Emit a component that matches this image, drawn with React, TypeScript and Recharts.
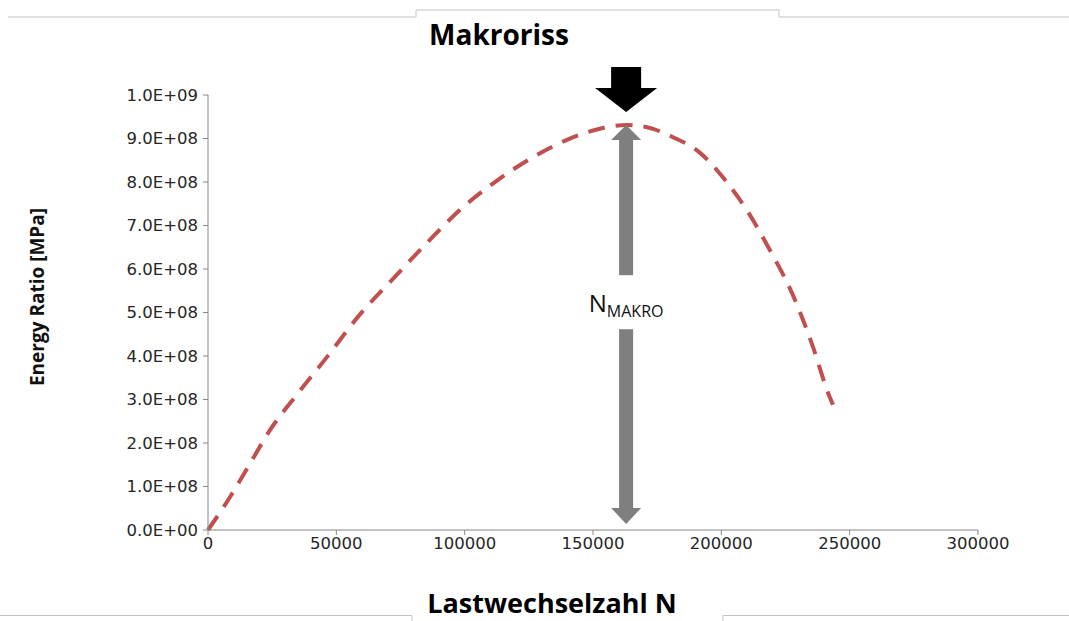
import { Line, LineChart, ReferenceLine, XAxis, YAxis } from 'recharts'

// Lastwechselzahl N
const cycles = [
  0, 8600, 15600, 24200, 35100, 46400, 58400, 71700, 85300, 98200, 113000, 126600, 139900, 153900,
  163200, 171000, 181200, 191700, 201400, 210400, 218200, 227500, 235700, 241600, 243500,
]
// Energy Ratio [MPa]
const energy = [
  0, 0.76e8, 1.45e8, 2.3e8, 3.15e8, 3.98e8, 4.9e8, 5.75e8, 6.6e8, 7.36e8, 8.05e8, 8.57e8, 8.97e8, 9.24e8,
  9.31e8, 9.26e8, 9.03e8, 8.67e8, 8.05e8, 7.31e8, 6.51e8, 5.45e8, 4.21e8, 3.15e8, 2.88e8,
]
const xTicks = [0, 50000, 100000, 150000, 200000, 250000, 300000]
const yTicks = [0, 1e8, 2e8, 3e8, 4e8, 5e8, 6e8, 7e8, 8e8, 9e8, 1e9]
const makroN = 162900
const makroPeak = 9.31e8

const W = 1069
const H = 621
const AXIS = '#868686'
const TICK_FONT = "'DejaVu Sans', sans-serif"
const TITLE_FONT = "'Open Sans', sans-serif"

const data = cycles.map((n, i) => ({ n, e: energy[i] }))

const sci = (v: number) => {
  if (v === 0) return '0.0E+00'
  const exp = Math.floor(Math.log10(v))
  const mant = v / Math.pow(10, exp)
  return `${mant.toFixed(1)}E+${String(exp).padStart(2, '0')}`
}

// double gray arrow from axis up to the peak, plus the black marker on top
const MakroArrow = (props: any) => {
  const { x1, y1, y2 } = props
  const x = x1
  const top = Math.min(y1, y2)
  const bottom = Math.max(y1, y2)
  const labelY = top + 0.44 * (bottom - top)
  const gray = '#7f7f7f'
  const bTip = top - 13
  return (
    <g>
      <polygon points={`${x},${top} ${x + 15},${top + 15} ${x - 15},${top + 15}`} fill={gray} />
      <rect x={x - 7} y={top + 14} width={14} height={labelY - 28 - top - 14} fill={gray} />
      <rect x={x - 7} y={labelY + 26} width={14} height={bottom - 21 - labelY - 26} fill={gray} />
      <polygon points={`${x},${bottom - 6} ${x + 15},${bottom - 22} ${x - 15},${bottom - 22}`} fill={gray} />
      <text x={x} y={labelY + 9} textAnchor="middle" fontFamily={TITLE_FONT} fill="#111">
        <tspan fontSize={24}>N</tspan>
        <tspan fontSize={16} dy={5}>MAKRO</tspan>
      </text>
      <polygon
        points={`${x - 15},${bTip - 45} ${x + 15},${bTip - 45} ${x + 15},${bTip - 24} ${x + 31},${bTip - 24} ${x},${bTip} ${x - 31},${bTip - 24} ${x - 15},${bTip - 24}`}
        fill="#000"
      />
    </g>
  )
}

export default function App() {
  return (
    <div style={{ position: 'absolute', left: 0, top: 0, width: W, height: H, background: '#fff' }}>
      <LineChart width={W} height={H} data={data} margin={{ top: 95, right: 91, bottom: 51, left: 38 }}>
        <XAxis
          dataKey="n"
          type="number"
          domain={[0, 300000]}
          ticks={xTicks}
          height={40}
          stroke={AXIS}
          tickSize={5}
          tick={{ fill: '#262626', fontSize: 16.5, fontFamily: TICK_FONT }}
        />
        <YAxis
          type="number"
          domain={[0, 1e9]}
          ticks={yTicks}
          width={170}
          stroke={AXIS}
          tickSize={5}
          tickFormatter={sci}
          tick={{ fill: '#262626', fontSize: 16.5, fontFamily: TICK_FONT, dx: -3 }}
        />
        <Line
          dataKey="e"
          type="monotone"
          stroke="#C0504D"
          strokeWidth={4}
          strokeDasharray="17 11"
          dot={false}
          activeDot={false}
          isAnimationActive={false}
        />
        <ReferenceLine
          segment={[
            { x: makroN, y: 0 },
            { x: makroN, y: makroPeak },
          ]}
          shape={MakroArrow}
          ifOverflow="visible"
        />
      </LineChart>
      <svg width={W} height={H} style={{ position: 'absolute', left: 0, top: 0, pointerEvents: 'none' }}>
        <path d="M8 17 H416 V10 H779 V17 H1069" fill="none" stroke="#c4c4c4" strokeWidth={1} />
        <path d="M0 615.5 H412 V621 M723 621 V615.5 H1069" fill="none" stroke="#c4c4c4" strokeWidth={1} />
        <text x={499} y={45} textAnchor="middle" fontFamily={TITLE_FONT} fontWeight={700} fontSize={28} fill="#000">
          Makroriss
        </text>
        <text x={552} y={613} textAnchor="middle" fontFamily={TITLE_FONT} fontWeight={700} fontSize={27} fill="#000">
          Lastwechselzahl N
        </text>
        <text
          x={0}
          y={0}
          transform="translate(44 297) rotate(-90)"
          textAnchor="middle"
          fontFamily={TITLE_FONT}
          fontWeight={700}
          fontSize={19}
          fill="#111"
        >
          Energy Ratio [MPa]
        </text>
      </svg>
    </div>
  )
}
